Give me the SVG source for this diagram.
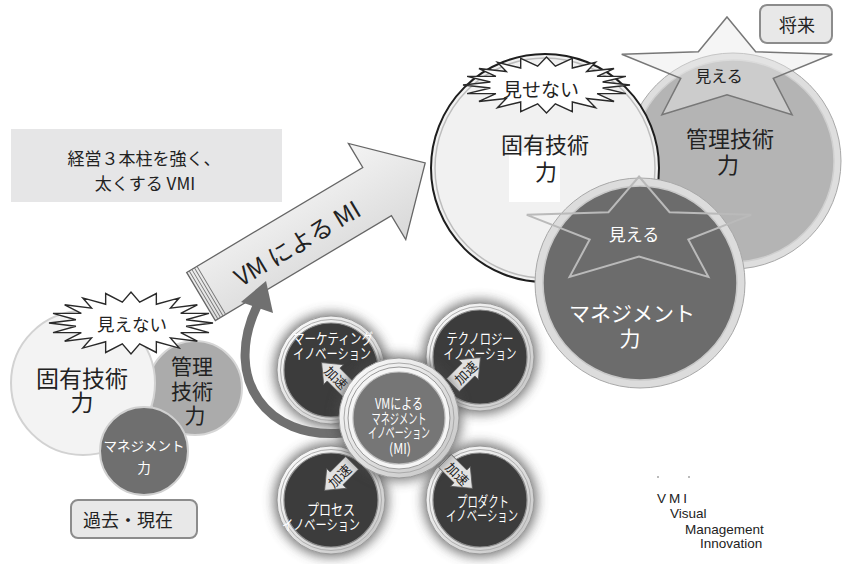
<svg xmlns="http://www.w3.org/2000/svg" width="843" height="564" viewBox="0 0 843 564">
<defs>
<style>
text { font-family: "Noto Sans CJK JP", "Noto Sans", sans-serif; text-anchor: middle; dominant-baseline: central; fill: #222; }
.w { fill: #fff; }
.lat { font-family: "Liberation Sans", Arial, sans-serif; text-anchor: start; font-size: 13.5px; fill: #222; }
.burst { fill: #fff; stroke: #2a2a2a; stroke-width: 1.4; }
.sat { font-size: 14.5px; fill: #fff; }
.kasoku { fill: #e2e2e2; stroke: #555; stroke-width: 0.8; }
.ktxt { font-size: 13px; fill: #222; }
.lbl { fill: #e8e8e8; stroke: #8c8c8c; stroke-width: 2; }
</style>
<polygon id="burstShape" vector-effect="non-scaling-stroke" points="100,0 67.2,10.6 95.1,30.9 60.6,30.9 80.9,58.8 48.1,48.1 58.8,80.9 30.9,60.6 30.9,95.1 10.6,67.2 0,100 -10.6,67.2 -30.9,95.1 -30.9,60.6 -58.8,80.9 -48.1,48.1 -80.9,58.8 -60.6,30.9 -95.1,30.9 -67.2,10.6 -100,0 -67.2,-10.6 -95.1,-30.9 -60.6,-30.9 -80.9,-58.8 -48.1,-48.1 -58.8,-80.9 -30.9,-60.6 -30.9,-95.1 -10.6,-67.2 0,-100 10.6,-67.2 30.9,-95.1 30.9,-60.6 58.8,-80.9 48.1,-48.1 80.9,-58.8 60.6,-30.9 95.1,-30.9 67.2,-10.6"/>
<polygon id="starShape" vector-effect="non-scaling-stroke" points="0,-100 25.9,-35.6 95.1,-30.9 41.8,13.6 58.8,80.9 0,44 -58.8,80.9 -41.8,13.6 -95.1,-30.9 -25.9,-35.6"/>
<polygon id="kArrow" points="-20,-9 2,-9 2,-14 19,0 2,14 2,9 -20,9"/>
<filter id="halo" x="-40%" y="-40%" width="180%" height="180%"><feGaussianBlur stdDeviation="6"/></filter>
<linearGradient id="ringG" x1="0" y1="0" x2="1" y2="1"><stop offset="0" stop-color="#ffffff"/><stop offset="1" stop-color="#c2c2c2"/></linearGradient>
<linearGradient id="arrowG" x1="0" y1="0" x2="0" y2="1"><stop offset="0" stop-color="#f4f4f4"/><stop offset="1" stop-color="#d8d8d8"/></linearGradient>
<g id="satBase">
<circle r="57" fill="#4a4a4a" opacity="0.75" filter="url(#halo)"/>
<circle r="54" fill="url(#ringG)" stroke="#9a9a9a" stroke-width="1"/>
<circle r="50.5" fill="none" stroke="#b0b0b0" stroke-width="1"/>
<circle r="47" fill="#3c3c3c" stroke="#8a8a8a" stroke-width="1.2"/>
</g>
</defs>
<rect width="843" height="564" fill="#fff"/>

<g id="title-box">
<rect x="11" y="129" width="271" height="73" fill="#e6e6e7"/>
<text font-size="17"><tspan x="144" y="157">経営３本柱を強く、</tspan><tspan x="145" y="182">太くする VMI</tspan></text>
</g>

<!-- past cluster -->
<g id="past-mgmt">
<circle cx="195" cy="388" r="47" fill="#ababab" stroke="#d6d6d6" stroke-width="2"/>
<text font-size="21"><tspan x="192" y="365">管理</tspan><tspan x="192" y="390">技術</tspan><tspan x="195" y="414">力</tspan></text>
</g>
<g id="past-core">
<circle cx="83" cy="383" r="72" fill="#f3f3f3" stroke="#d2d2d2" stroke-width="2"/>
<text font-size="23"><tspan x="82" y="377">固有技術</tspan><tspan x="82" y="401">力</tspan></text>
</g>
<g id="past-mgmtpower">
<circle cx="144" cy="451" r="44" fill="#6f6f6f" stroke="#d0d0d0" stroke-width="2"/>
<text class="w" font-size="13.5"><tspan x="144" y="445">マネジメント</tspan><tspan x="144" y="467">力</tspan></text>
</g>
<g id="past-burst">
<use href="#burstShape" class="burst" transform="translate(131,323) scale(0.82,0.31)"/>
<text x="132" y="323" font-size="17.5">見えない</text>
</g>
<g id="past-label">
<rect class="lbl" x="71" y="500" width="126" height="38" rx="7"/>
<text x="128" y="519" font-size="18">過去・現在</text>
</g>

<!-- future cluster -->
<g id="future-mgmt">
<circle cx="733" cy="161" r="108" fill="#dedede" stroke="#a8a8a8" stroke-width="1"/>
<circle cx="733" cy="161" r="101" fill="#b4b4b4" stroke="#cfcfcf" stroke-width="1.5"/>
<text font-size="22"><tspan x="730" y="137">管理技術</tspan><tspan x="728" y="163">力</tspan></text>
</g>
<g id="future-mgmt-star">
<use href="#starShape" fill="#e8e8e8" fill-opacity="0.45" stroke="#777" stroke-width="1.5" transform="translate(727,71) scale(1.107,0.54)"/>
<text x="719" y="75" font-size="16">見える</text>
</g>
<g id="future-core">
<circle cx="545" cy="168" r="114" fill="#f1f1f1" stroke="#1e1e1e" stroke-width="2"/>
<circle cx="545" cy="168" r="110" fill="none" stroke="#bdbdbd" stroke-width="1.5"/>
<rect x="509" y="152" width="51" height="50" fill="#fff"/>
<text font-size="22"><tspan x="545" y="143">固有技術</tspan><tspan x="546" y="170">力</tspan></text>
</g>
<g id="future-core-burst">
<use href="#burstShape" class="burst" transform="translate(546.5,85) scale(0.835,0.28)"/>
<text x="541" y="88" font-size="19">見せない</text>
</g>
<g id="future-mgmtpower">
<circle cx="640" cy="283" r="105" fill="#dcdcdc" stroke="#a8a8a8" stroke-width="1"/>
<circle cx="640" cy="283" r="97" fill="#6c6c6c" stroke="#c8c8c8" stroke-width="1.5"/>
<text class="w" font-size="21"><tspan x="632" y="312">マネジメント</tspan><tspan x="630" y="337">力</tspan></text>
</g>
<g id="future-mgmtpower-star">
<use href="#starShape" fill="none" stroke="#bababa" stroke-width="2" transform="translate(639,232) scale(1.18,0.555)"/>
<text class="w" x="634" y="233" font-size="17">見える</text>
</g>
<g id="future-label">
<rect class="lbl" x="760" y="5" width="72" height="38" rx="7"/>
<text x="797" y="24" font-size="18">将来</text>
</g>

<!-- big arrow -->
<g id="mi-arrow" transform="translate(201,296.5) rotate(-30.8)">
<polygon points="0,-28 205,-28 205,-56 261,0 205,56 205,28 0,28" fill="url(#arrowG)" stroke="#666" stroke-width="1.3"/>
<path d="M3,-28V28M6,-28V28M9,-28V28M12,-28V28" stroke="#777" stroke-width="0.9" fill="none"/>
<text x="110" y="2" font-size="24">VM による MI</text>
</g>

<!-- satellites -->
<g id="marketing">
<use href="#satBase" transform="translate(331,370)"/>
<text class="sat"><tspan x="333" y="337" textLength="80" lengthAdjust="spacingAndGlyphs">マーケティング</tspan><tspan x="332" y="352" textLength="78" lengthAdjust="spacingAndGlyphs">イノベーション</tspan></text>
</g>
<g id="technology">
<use href="#satBase" transform="translate(480,357)"/>
<text class="sat"><tspan x="480" y="337" textLength="67" lengthAdjust="spacingAndGlyphs">テクノロジー</tspan><tspan x="480" y="352" textLength="73" lengthAdjust="spacingAndGlyphs">イノベーション</tspan></text>
</g>
<g id="process">
<use href="#satBase" transform="translate(331,500)"/>
<text class="sat"><tspan x="331" y="508" textLength="48" lengthAdjust="spacingAndGlyphs">プロセス</tspan><tspan x="321" y="523" textLength="78" lengthAdjust="spacingAndGlyphs">イノベーション</tspan></text>
</g>
<g id="product">
<use href="#satBase" transform="translate(480,500)"/>
<text class="sat"><tspan x="483" y="500" textLength="52" lengthAdjust="spacingAndGlyphs">プロダクト</tspan><tspan x="482" y="514" textLength="72" lengthAdjust="spacingAndGlyphs">イノベーション</tspan></text>
</g>

<!-- connectors -->
<g id="connectors">
<g id="curve-arrow">
<path d="M342,433 C268,440 222,380 257,306" fill="none" stroke="#707070" stroke-width="9"/>
<polygon points="266,281 241,302 273,313" fill="#707070"/>
</g>
<g id="kasoku-mkt" transform="translate(335,376)">
<use href="#kArrow" class="kasoku" transform="rotate(-135)"/>
<text class="ktxt" transform="rotate(45)" x="2" y="0">加速</text>
</g>
<g id="kasoku-tech" transform="translate(467,371)">
<use href="#kArrow" class="kasoku" transform="rotate(-45)"/>
<text class="ktxt" transform="rotate(-45)" x="-2" y="0">加速</text>
</g>
<g id="kasoku-proc" transform="translate(338,477)">
<use href="#kArrow" class="kasoku" transform="rotate(135)"/>
<text class="ktxt" transform="rotate(-45)" x="2" y="0">加速</text>
</g>
<g id="kasoku-prod" transform="translate(459,475)">
<use href="#kArrow" class="kasoku" transform="rotate(45)"/>
<text class="ktxt" transform="rotate(45)" x="-2" y="0">加速</text>
</g>
</g>

<!-- center -->
<g id="center-mi">
<circle cx="399" cy="418" r="63" fill="#4a4a4a" opacity="0.7" filter="url(#halo)"/>
<circle cx="399" cy="418" r="60" fill="url(#ringG)" stroke="#999" stroke-width="1"/>
<circle cx="399" cy="418" r="55" fill="none" stroke="#aaa" stroke-width="1"/>
<circle cx="399" cy="418" r="51" fill="#f5f5f5" stroke="#999" stroke-width="1"/>
<circle cx="399" cy="418" r="46" fill="#767676" stroke="#bbb" stroke-width="1.2"/>
<text class="sat" font-size="15"><tspan x="399" y="402" textLength="48" lengthAdjust="spacingAndGlyphs">VMによる</tspan><tspan x="399" y="417" textLength="55" lengthAdjust="spacingAndGlyphs">マネジメント</tspan><tspan x="399" y="431" textLength="62" lengthAdjust="spacingAndGlyphs">イノベーション</tspan><tspan x="400" y="447" textLength="22" lengthAdjust="spacingAndGlyphs">(MI)</tspan></text>
</g>

<g id="legend">
<rect x="657" y="476" width="2" height="2" fill="#bbb"/>
<rect x="688" y="476" width="2" height="2" fill="#bbb"/>
<text class="lat"><tspan x="657" y="498" letter-spacing="3">VMI</tspan><tspan x="670" y="513">Visual</tspan><tspan x="685" y="529">Management</tspan><tspan x="700" y="543">Innovation</tspan></text>
</g>
</svg>
